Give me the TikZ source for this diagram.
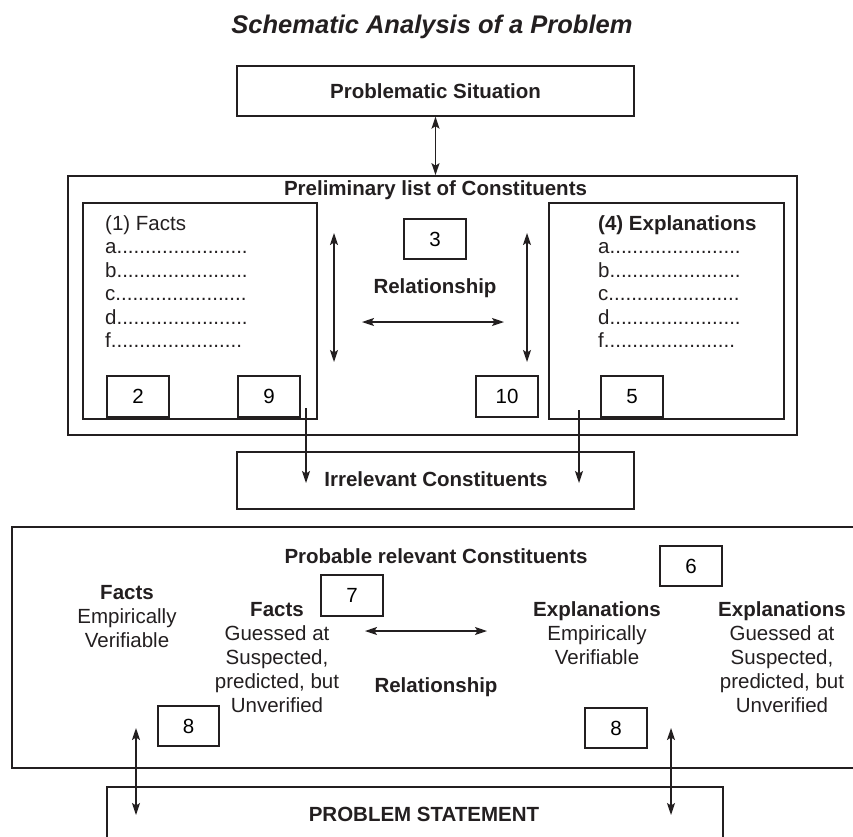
\documentclass[tikz,border=0pt]{standalone}
\usepackage{fontspec}
\setmainfont{Liberation Sans}
\usetikzlibrary{arrows.meta}
\definecolor{ink}{HTML}{231F20}
\tikzset{
  bigbox/.style={draw=ink, line width=1.7pt, inner sep=0pt},
  midbox/.style={draw=ink, line width=1.4pt, inner sep=0pt},
  numbox/.style={draw=ink, line width=1.2pt, inner sep=0pt, minimum width=62pt, minimum height=41pt, font=\fontsize{20.5}{24}\selectfont},
  lbl/.style={anchor=base, inner sep=0pt, text=ink, font=\fontsize{20.5}{24}\selectfont},
  blbl/.style={lbl, font=\fontsize{20.5}{24}\selectfont\bfseries},
  dbl/.style={draw=ink, line width=1.3pt, {Stealth[length=12pt,width=8pt,inset=2.5pt]}-{Stealth[length=12pt,width=8pt,inset=2.5pt]}},
  sgl/.style={draw=ink, line width=1.3pt, -{Stealth[length=12pt,width=8pt,inset=2.5pt]}}
}
\newcommand{\dts}{.......................}
\begin{document}
\begin{tikzpicture}[x=1pt,y=1pt]
\useasboundingbox (0,0) rectangle (853,-836);
\clip (0,0) rectangle (853,-836);
% title
\node[lbl, font=\fontsize{25.5}{30}\selectfont\bfseries\itshape] (title) at (432,-33) {Schematic Analysis of a Problem};
% top box
\node[midbox, minimum width=397pt, minimum height=50pt] (ps) at (435.5,-91) {};
\node[blbl] (pstext) at (435.5,-98) {Problematic Situation};
% preliminary
\node[bigbox, minimum width=729pt, minimum height=259pt] (prelim) at (432.5,-305.5) {};
\node[blbl] (prelimtext) at (435.5,-195) {Preliminary list of Constituents};
\draw[dbl] (ps.south) -- (ps.south |- prelim.north);
% left inner box
\node[midbox, minimum width=234pt, minimum height=216pt] (lbox) at (200,-311) {};
\node[lbl, anchor=base west] (facts) at (105,-230) {\renewcommand{\arraystretch}{0.983}\begin{tabular}[t]{@{}l@{}}(1) Facts\\a\dts\\b\dts\\c\dts\\d\dts\\f\dts\end{tabular}};
\node[numbox] (b2) at (138,-396.5) {2};
\node[numbox] (b9) at (269,-396.5) {9};
% right inner box
\node[midbox, minimum width=235pt, minimum height=216pt] (rbox) at (666.5,-311) {};
\node[lbl, anchor=base west] (expl) at (598,-230) {\renewcommand{\arraystretch}{0.983}\begin{tabular}[t]{@{}l@{}}\textbf{(4) Explanations}\\a\dts\\b\dts\\c\dts\\d\dts\\f\dts\end{tabular}};
\node[numbox] (b5) at (632,-396.5) {5};
% middle
\node[numbox, minimum height=40pt] (b3) at (435,-239) {3};
\node[blbl] (rel1) at (435,-293) {Relationship};
\node[numbox] (b10) at (507,-396.5) {10};
\coordinate (lvt) at (334,-233); \coordinate (lvb) at (334,-362);
\coordinate (rvt) at (527,-233); \coordinate (rvb) at (527,-362);
\coordinate (hl) at (362,-322); \coordinate (hr) at (504,-322);
\draw[dbl] (lvt) -- (lvb);
\draw[dbl] (rvt) -- (rvb);
\draw[dbl] (hl) -- (hr);
% irrelevant
\node[midbox, minimum width=397pt, minimum height=57pt] (irr) at (435.5,-480.5) {};
\node[blbl] (irrtext) at (436,-486) {Irrelevant Constituents};
\coordinate (ls) at (306,-408); \coordinate (le) at (306,-483);
\coordinate (rs) at (579,-410); \coordinate (re) at (579,-483);
\draw[sgl] (ls) -- (le);
\draw[sgl] (rs) -- (re);
% probable relevant
\node[bigbox, minimum width=888pt, minimum height=241pt] (prob) at (456,-647.5) {};
\node[blbl] (probtext) at (436,-563) {Probable relevant Constituents};
\node[numbox, minimum height=40pt] (b6) at (691,-566) {6};
\node[numbox] (b7) at (352,-595.5) {7};
\node[lbl] (fev) at (127,-599) {\renewcommand{\arraystretch}{1}\begin{tabular}[t]{@{}c@{}}\textbf{Facts}\\Empirically\\Verifiable\end{tabular}};
\node[lbl] (fgu) at (277,-616) {\renewcommand{\arraystretch}{1}\begin{tabular}[t]{@{}c@{}}\textbf{Facts}\\Guessed at\\Suspected,\\predicted, but\\Unverified\end{tabular}};
\node[lbl] (eev) at (597,-616) {\renewcommand{\arraystretch}{1}\begin{tabular}[t]{@{}c@{}}\textbf{Explanations}\\Empirically\\Verifiable\end{tabular}};
\node[lbl] (egu) at (782,-616) {\renewcommand{\arraystretch}{1}\begin{tabular}[t]{@{}c@{}}\textbf{Explanations}\\Guessed at\\Suspected,\\predicted, but\\Unverified\end{tabular}};
\node[blbl] (rel2) at (436,-692) {Relationship};
\coordinate (bhl) at (365,-631); \coordinate (bhr) at (487,-631);
\draw[dbl] (bhl) -- (bhr);
\node[numbox, minimum width=61pt, minimum height=40pt] (b8l) at (188.5,-726) {8};
\node[numbox, minimum height=40pt] (b8r) at (616,-728) {8};
% problem statement
\node[midbox, minimum width=616pt, minimum height=73pt] (pstat) at (415,-823.5) {};
\node[blbl] (pstattext) at (424,-821) {PROBLEM STATEMENT};
\coordinate (alt) at (136,-728); \coordinate (alb) at (136,-815);
\coordinate (art) at (671,-728); \coordinate (arb) at (671,-815);
\draw[dbl] (alt) -- (alb);
\draw[dbl] (art) -- (arb);
\end{tikzpicture}
\end{document}
